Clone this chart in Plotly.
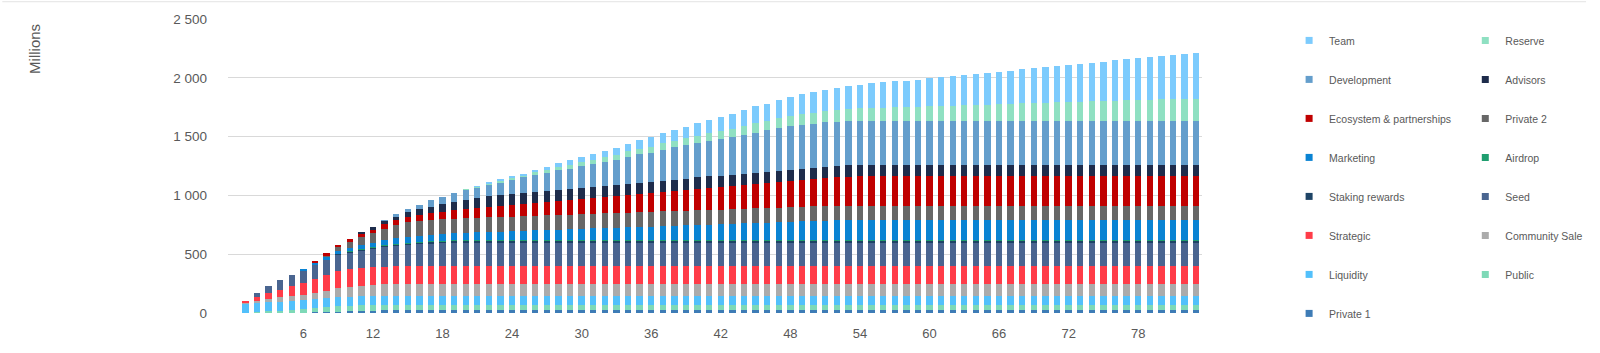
import plotly.graph_objects as go

# ---------------- data (millions of tokens, months 1..83) ----------------
months = list(range(1, 84))
x_tick_values = [6, 12, 18, 24, 30, 36, 42, 48, 54, 60, 66, 72, 78]
y_tick_values = [0, 500, 1000, 1500, 2000, 2500]
y_tick_labels = ["0", "500", "1 000", "1 500", "2 000", "2 500"]

private1 = [
    0, 0, 1, 2, 3, 4, 6, 8, 12, 15,
    18, 20, 22, 22, 22, 22, 22, 22, 22, 22,
    22, 22, 22, 22, 22, 22, 22, 22, 22, 22,
    22, 22, 22, 22, 22, 22, 22, 22, 22, 22,
    22, 22, 22, 22, 22, 22, 22, 22, 22, 22,
    22, 22, 22, 22, 22, 22, 22, 22, 22, 22,
    22, 22, 22, 22, 22, 22, 22, 22, 22, 22,
    22, 22, 22, 22, 22, 22, 22, 22, 22, 22,
    22, 22, 22]
public = [
    0, 5, 12, 18, 24, 30, 36, 42, 48, 48,
    48, 48, 48, 48, 48, 48, 48, 48, 48, 48,
    48, 48, 48, 48, 48, 48, 48, 48, 48, 48,
    48, 48, 48, 48, 48, 48, 48, 48, 48, 48,
    48, 48, 48, 48, 48, 48, 48, 48, 48, 48,
    48, 48, 48, 48, 48, 48, 48, 48, 48, 48,
    48, 48, 48, 48, 48, 48, 48, 48, 48, 48,
    48, 48, 48, 48, 48, 48, 48, 48, 48, 48,
    48, 48, 48]
liquidity = [
    77, 77, 77, 77, 77, 77, 77, 77, 77, 77,
    77, 77, 77, 77, 77, 77, 77, 77, 77, 77,
    77, 77, 77, 77, 77, 77, 77, 77, 77, 77,
    77, 77, 77, 77, 77, 77, 77, 77, 77, 77,
    77, 77, 77, 77, 77, 77, 77, 77, 77, 77,
    77, 77, 77, 77, 77, 77, 77, 77, 77, 77,
    77, 77, 77, 77, 77, 77, 77, 77, 77, 77,
    77, 77, 77, 77, 77, 77, 77, 77, 77, 77,
    77, 77, 77]
community_sale = [
    11, 22, 30, 36, 41, 45, 50, 61, 72, 81,
    88, 93, 97, 100, 100, 100, 100, 100, 100, 100,
    100, 100, 100, 100, 100, 100, 100, 100, 100, 100,
    100, 100, 100, 100, 100, 100, 100, 100, 100, 100,
    100, 100, 100, 100, 100, 100, 100, 100, 100, 100,
    100, 100, 100, 100, 100, 100, 100, 100, 100, 100,
    100, 100, 100, 100, 100, 100, 100, 100, 100, 100,
    100, 100, 100, 100, 100, 100, 100, 100, 100, 100,
    100, 100, 100]
strategic = [
    14, 34, 48, 66, 81, 100, 118, 134, 150, 150,
    150, 150, 150, 150, 150, 150, 150, 150, 150, 150,
    150, 150, 150, 150, 150, 150, 150, 150, 150, 150,
    150, 150, 150, 150, 150, 150, 150, 150, 150, 150,
    150, 150, 150, 150, 150, 150, 150, 150, 150, 150,
    150, 150, 150, 150, 150, 150, 150, 150, 150, 150,
    150, 150, 150, 150, 150, 150, 150, 150, 150, 150,
    150, 150, 150, 150, 150, 150, 150, 150, 150, 150,
    150, 150, 150]
seed = [
    0, 28, 59, 84, 100, 106, 122, 129, 140, 147,
    154, 162, 172, 180, 187, 193, 198, 201, 204, 204,
    204, 204, 204, 204, 204, 204, 204, 204, 204, 204,
    204, 204, 204, 204, 204, 204, 204, 204, 204, 204,
    204, 204, 204, 204, 204, 204, 204, 204, 204, 204,
    204, 204, 204, 204, 204, 204, 204, 204, 204, 204,
    204, 204, 204, 204, 204, 204, 204, 204, 204, 204,
    204, 204, 204, 204, 204, 204, 204, 204, 204, 204,
    204, 204, 204]
staking_rewards = [
    0, 0, 0, 0, 0, 1, 2, 3, 4, 5,
    6, 7, 8, 9, 10, 11, 12, 12, 12, 12,
    12, 12, 12, 12, 12, 12, 12, 12, 12, 12,
    12, 12, 12, 12, 12, 12, 12, 12, 12, 12,
    12, 12, 12, 12, 12, 12, 12, 12, 12, 12,
    12, 12, 12, 12, 12, 12, 12, 12, 12, 12,
    12, 12, 12, 12, 12, 12, 12, 12, 12, 12,
    12, 12, 12, 12, 12, 12, 12, 12, 12, 12,
    12, 12, 12]
airdrop = [
    0, 0, 0, 0, 0, 0, 0, 0, 0, 5,
    5, 5, 5, 5, 5, 5, 5, 5, 5, 5,
    5, 5, 5, 5, 5, 5, 5, 5, 5, 5,
    5, 5, 5, 5, 5, 5, 5, 5, 5, 5,
    5, 5, 5, 5, 5, 5, 5, 5, 5, 5,
    5, 5, 5, 5, 5, 5, 5, 5, 5, 5,
    5, 5, 5, 5, 5, 5, 5, 5, 5, 5,
    5, 5, 5, 5, 5, 5, 5, 5, 5, 5,
    5, 5, 5]
marketing = [
    0, 0, 0, 0, 0, 8, 16, 22, 25, 28,
    33, 37, 40, 44, 47, 50, 54, 57, 60, 64,
    67, 70, 74, 77, 80, 84, 87, 91, 94, 97,
    101, 104, 107, 111, 114, 117, 121, 124, 127, 131,
    134, 137, 141, 144, 147, 151, 154, 158, 161, 164,
    168, 171, 171, 171, 171, 171, 171, 171, 171, 171,
    171, 171, 171, 171, 171, 171, 171, 171, 171, 171,
    171, 171, 171, 171, 171, 171, 171, 171, 171, 171,
    171, 171, 171]
private2 = [
    0, 0, 0, 0, 0, 0, 0, 17, 35, 50,
    70, 84, 98, 110, 125, 125, 125, 125, 125, 125,
    125, 125, 125, 125, 125, 125, 125, 125, 125, 125,
    125, 125, 125, 125, 125, 125, 125, 125, 125, 125,
    125, 125, 125, 125, 125, 125, 125, 125, 125, 125,
    125, 125, 125, 125, 125, 125, 125, 125, 125, 125,
    125, 125, 125, 125, 125, 125, 125, 125, 125, 125,
    125, 125, 125, 125, 125, 125, 125, 125, 125, 125,
    125, 125, 125]
ecosystem = [
    0, 0, 0, 0, 0, 0, 10, 14, 14, 20,
    25, 31, 38, 44, 48, 52, 57, 63, 69, 75,
    80, 86, 91, 96, 100, 105, 110, 116, 121, 126,
    131, 136, 142, 148, 153, 158, 164, 169, 175, 181,
    186, 190, 195, 201, 204, 208, 213, 218, 224, 230,
    236, 241, 245, 248, 248, 248, 248, 248, 248, 248,
    248, 248, 248, 248, 248, 248, 248, 248, 248, 248,
    248, 248, 248, 248, 248, 248, 248, 248, 248, 248,
    248, 248, 248]
advisors = [
    0, 0, 0, 0, 0, 0, 0, 0, 0, 0,
    8, 14, 28, 34, 42, 50, 56, 64, 72, 78,
    86, 92, 96, 98, 98, 98, 98, 98, 98, 98,
    98, 98, 98, 98, 98, 98, 98, 98, 98, 98,
    98, 98, 98, 98, 98, 98, 98, 98, 98, 98,
    98, 98, 98, 98, 98, 98, 98, 98, 98, 98,
    98, 98, 98, 98, 98, 98, 98, 98, 98, 98,
    98, 98, 98, 98, 98, 98, 98, 98, 98, 98,
    98, 98, 98]
development = [
    0, 0, 0, 0, 0, 0, 0, 0, 0, 0,
    0, 0, 3, 15, 22, 38, 55, 66, 75, 86,
    92, 101, 108, 120, 132, 145, 155, 164, 172, 185,
    195, 203, 215, 230, 241, 248, 263, 274, 282, 290,
    301, 311, 318, 330, 342, 352, 364, 373, 375, 375,
    375, 375, 375, 375, 375, 375, 375, 375, 375, 375,
    375, 375, 375, 375, 375, 375, 375, 375, 375, 375,
    375, 375, 375, 375, 375, 375, 375, 375, 375, 375,
    375, 375, 375]
reserve = [
    0, 0, 0, 0, 0, 0, 0, 0, 0, 0,
    0, 0, 0, 0, 0, 0, 0, 0, 0, 3,
    6, 10, 13, 15, 18, 21, 24, 27, 30, 33,
    36, 39, 42, 45, 48, 51, 54, 57, 60, 63,
    66, 69, 72, 75, 78, 81, 84, 87, 90, 93,
    96, 99, 102, 105, 108, 111, 114, 117, 120, 123,
    126, 129, 132, 135, 138, 141, 144, 147, 150, 153,
    156, 159, 162, 165, 168, 171, 174, 177, 180, 182,
    182, 182, 182]
team = [
    0, 0, 0, 0, 0, 0, 0, 0, 0, 0,
    0, 0, 0, 0, 0, 0, 0, 0, 0, 0,
    2, 5, 7, 9, 13, 20, 27, 35, 42, 46,
    50, 54, 60, 65, 74, 78, 86, 93, 100, 109,
    115, 122, 128, 138, 145, 148, 153, 163, 170, 175,
    182, 187, 194, 201, 210, 216, 220, 222, 228, 238,
    242, 250, 258, 262, 269, 274, 282, 290, 296, 304,
    309, 313, 320, 328, 334, 342, 350, 358, 364, 370,
    376, 384, 391]

# stacking order: bottom -> top
series_names = ["Private 1", "Public", "Liquidity", "Community Sale", "Strategic",
                "Seed", "Staking rewards", "Airdrop", "Marketing", "Private 2",
                "Ecosystem & partnerships", "Advisors", "Development", "Reserve", "Team"]
series_values = [private1, public, liquidity, community_sale, strategic,
                 seed, staking_rewards, airdrop, marketing, private2,
                 ecosystem, advisors, development, reserve, team]
series_colors = ["#3E7CB6", "#7ED9B7", "#52C0FB", "#ABABAB", "#FF3C48",
                 "#4A6590", "#1E4466", "#1F9E6F", "#0A83D3", "#676767",
                 "#C00000", "#1E2C4B", "#649ECC", "#8FE0C2", "#7CCBFD"]

legend_col1 = ["Team", "Development", "Ecosystem & partnerships", "Marketing",
               "Staking rewards", "Strategic", "Liquidity", "Private 1"]
legend_col2 = ["Reserve", "Advisors", "Private 2", "Airdrop", "Seed",
               "Community Sale", "Public"]

for v in series_values:
    assert len(v) == len(months)

color_of = dict(zip(series_names, series_colors))

# ---------------- figure ----------------
fig = go.Figure()
for name, vals, col in zip(series_names, series_values, series_colors):
    fig.add_trace(go.Bar(x=months, y=vals, name=name, showlegend=False,
                         marker=dict(color=col, line=dict(width=0))))

for legname, names in (("legend", legend_col1), ("legend2", legend_col2)):
    for i, name in enumerate(names):
        fig.add_trace(go.Scatter(x=[None], y=[None], mode="markers", name=name,
                                 legend=legname, legendgroup=legname + str(i),
                                 marker=dict(symbol="square", size=7,
                                             color=color_of[name]),
                                 hoverinfo="skip"))

FONT = "Liberation Sans"
TXT = "#595959"
L, R, T, B = 228, 388, 18, 37
W, H = 1600, 353
pw, ph = W - L - R, H - T - B

def px_x(x):
    return (x - L) / pw

def px_y(y):
    return (H - B - y) / ph

legend_common = dict(xanchor="left", yanchor="top", traceorder="grouped",
                     tracegroupgap=20, bgcolor="rgba(0,0,0,0)", maxheight=345,
                     font=dict(family=FONT, size=10.5, color=TXT),
                     itemclick=False, itemdoubleclick=False)

fig.update_layout(
    width=W, height=H,
    margin=dict(l=L, r=R, t=T, b=B, pad=0),
    barmode="stack", bargap=0.45,
    plot_bgcolor="white", paper_bgcolor="white",
    font=dict(family=FONT, color=TXT),
    legend=dict(x=px_x(1300), y=px_y(25), **legend_common),
    legend2=dict(x=px_x(1478), y=px_y(25), **legend_common),
    xaxis=dict(range=[-0.5, 83.5], tickmode="array", tickvals=x_tick_values,
               showgrid=False, zeroline=False, showline=False, ticks="",
               tickfont=dict(family=FONT, size=13, color=TXT),
               ticklabelstandoff=11),
    yaxis=dict(range=[0, 2500], tickmode="array", tickvals=y_tick_values,
               ticktext=y_tick_labels, showgrid=True, gridcolor="#D9D9D9",
               gridwidth=1, zeroline=False, showline=False, ticks="",
               tickfont=dict(family=FONT, size=13.5, color=TXT),
               ticklabelstandoff=20),
    annotations=[dict(text="Millions", xref="paper", yref="paper",
                      x=px_x(33), y=px_y(21), xanchor="center", yanchor="top",
                      textangle=-90, showarrow=False,
                      font=dict(family=FONT, size=15, color=TXT))],
    shapes=[dict(type="line", xref="paper", yref="paper",
                 x0=px_x(0), x1=px_x(W), y0=px_y(0.5), y1=px_y(0.5),
                 line=dict(color="#E3E3E3", width=1))],
    showlegend=True,
)

fig.write_html("out.html")
